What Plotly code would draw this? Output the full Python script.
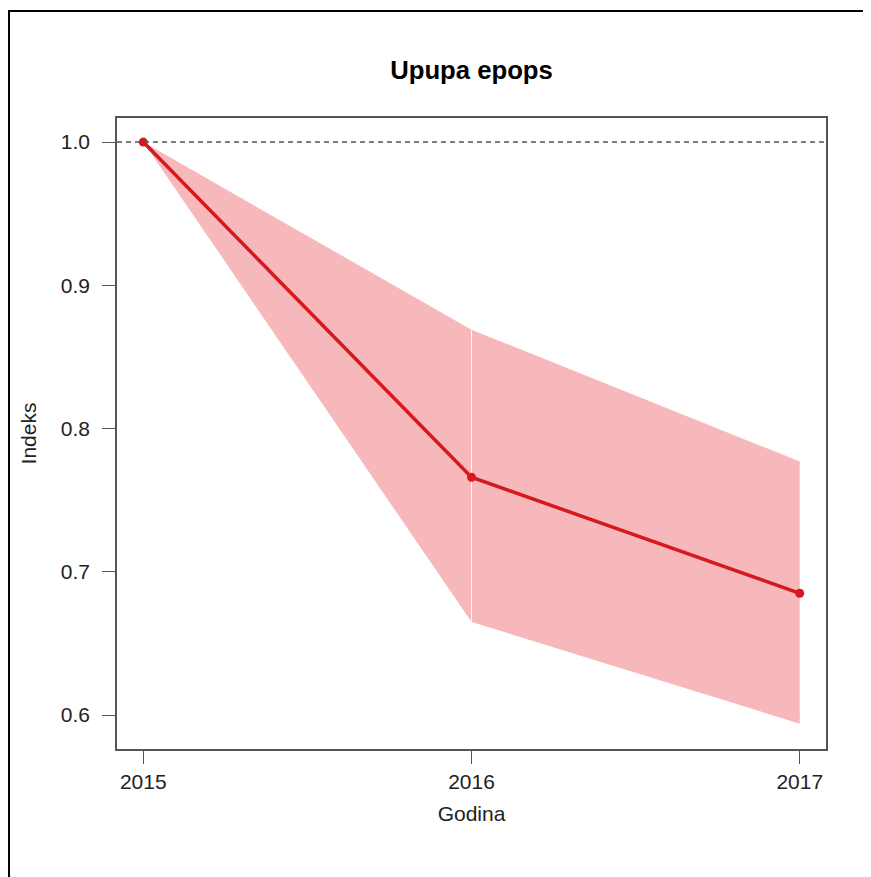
import plotly.graph_objects as go

# dane
godina = [2015, 2016, 2017]
indeks = [1.0, 0.766, 0.685]
gornja = [1.0, 0.869, 0.777]   # gornja granica
donja = [1.0, 0.665, 0.594]    # donja granica

crvena = "#d8181f"
roza = "rgb(246,184,187)"
font = "Liberation Sans, Arial, sans-serif"

fig = go.Figure()

# pojas pouzdanosti, dva dijela kao u originalu
for i in range(len(godina) - 1):
    xs = [godina[i], godina[i + 1], godina[i + 1], godina[i]]
    ys = [gornja[i], gornja[i + 1], donja[i + 1], donja[i]]
    fig.add_trace(go.Scatter(x=xs, y=ys, fill="toself", fillcolor=roza,
                             mode="none", hoverinfo="skip", showlegend=False))

# svijetla linija na spoju
fig.add_trace(go.Scatter(x=[godina[1], godina[1]], y=[donja[1], gornja[1]],
                         mode="lines", line=dict(color="rgba(255,255,255,0.85)", width=1),
                         hoverinfo="skip", showlegend=False))

fig.add_hline(y=1.0, line_dash="5px,4px", line_color="#555", line_width=1.5)

fig.add_trace(go.Scatter(x=godina, y=indeks, mode="lines+markers",
                         line=dict(color=crvena, width=3.5),
                         marker=dict(color=crvena, size=9),
                         showlegend=False))

# okvir oko slike (samo lijevo i gore vidljivo)
fig.add_shape(type="rect", xref="paper", yref="paper",
              x0=-0.1523, x1=1.2, y0=-0.3, y1=1.1696,
              line=dict(color="black", width=2), layer="above")

osi = dict(showline=True, mirror=True, linecolor="#555", linewidth=1.5,
           ticks="outside", ticklen=13, tickcolor="#555", tickwidth=1.2,
           showgrid=False, zeroline=False,
           tickfont=dict(family=font, size=21, color="#222"))

fig.update_xaxes(range=[2014.92, 2017.08], tickvals=godina,
                 title=dict(text="Godina", font=dict(family=font, size=21, color="#222"), standoff=14),
                 **osi)
fig.update_yaxes(range=[0.5763, 1.0168], tickvals=[0.6, 0.7, 0.8, 0.9, 1.0], tickformat=".1f",
                 ticklabelstandoff=8,
                 title=dict(text="Indeks", font=dict(family=font, size=21, color="#222"), standoff=18),
                 **osi)

fig.update_layout(
    width=863, height=869,
    margin=dict(l=109, r=45, t=110, b=128),
    paper_bgcolor="white", plot_bgcolor="white",
    title=dict(text="<b>Upupa epops</b>", x=0.5, xref="paper", xanchor="center",
               y=1 - 62 / 869, yref="container", yanchor="middle",
               font=dict(family=font, size=25.7, color="black")),
)

fig.write_html("out.html")
